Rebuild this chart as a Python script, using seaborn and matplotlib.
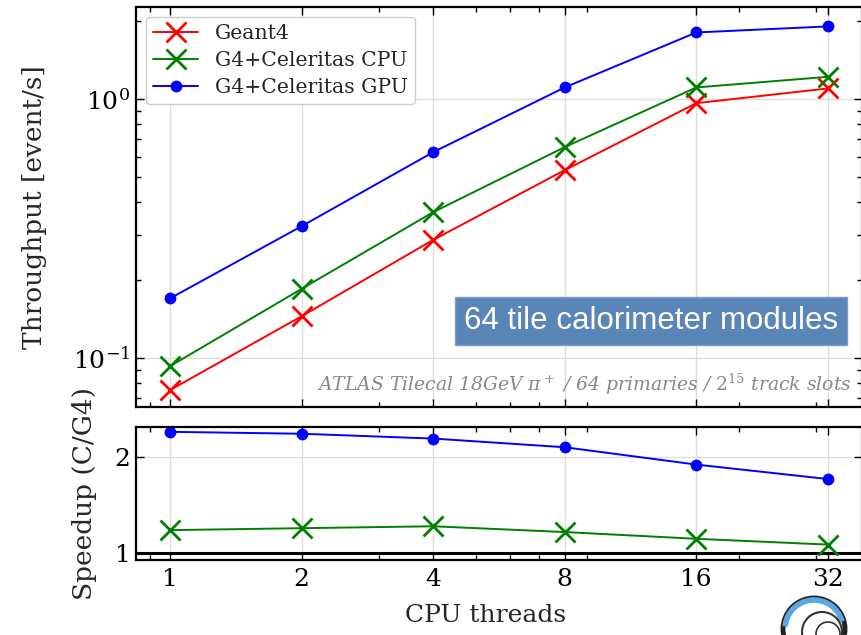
import numpy as np
import pandas as pd
import matplotlib
matplotlib.use("Agg")
import matplotlib.pyplot as plt
import seaborn as sns
from matplotlib.patches import Circle, Arc

# data
threads = [1, 2, 4, 8, 16, 32]
geant4 = [0.0752, 0.145, 0.286, 0.532, 0.965, 1.10]
celer_cpu = [0.093, 0.185, 0.366, 0.653, 1.11, 1.22]
celer_gpu = [0.170, 0.323, 0.624, 1.11, 1.81, 1.91]
speedup_cpu = [1.24, 1.26, 1.28, 1.22, 1.15, 1.09]
speedup_gpu = [2.26, 2.24, 2.19, 2.10, 1.92, 1.77]
xtick_labels = ["1", "2", "4", "8", "16", "32"]

sns.set_theme(style="whitegrid")
plt.rcParams['font.family'] = ['DejaVu Serif']
plt.rcParams['mathtext.fontset'] = 'dejavuserif'
plt.rcParams.update({
    'xtick.direction': 'in', 'ytick.direction': 'in',
    'xtick.top': True, 'ytick.right': True,
    'xtick.bottom': True, 'ytick.left': True,
    'xtick.major.size': 6, 'ytick.major.size': 6,
    'xtick.minor.size': 3.5, 'ytick.minor.size': 3.5,
    'xtick.major.width': 1.0, 'ytick.major.width': 1.0,
    'xtick.minor.visible': True,
    'axes.edgecolor': 'black', 'axes.linewidth': 1.6,
    'grid.color': '#dddddd', 'grid.linewidth': 1.0,
    'xtick.color': 'black', 'ytick.color': 'black',
})

fig = plt.figure(figsize=(8.61, 6.35), dpi=100)
W, H = 861, 635
ax1 = fig.add_axes([136 / W, 1 - 407 / H, 726 / W, 400 / H])
ax2 = fig.add_axes([136 / W, 1 - 560 / H, 726 / W, 133 / H], sharex=ax1)

df = pd.DataFrame({"threads": threads, "g4": geant4, "cpu": celer_cpu, "gpu": celer_gpu,
                   "s_cpu": speedup_cpu, "s_gpu": speedup_gpu})

xkw = dict(marker="x", markersize=14, markeredgewidth=2, lw=1.4)
okw = dict(marker="o", markersize=8.5, markeredgewidth=0, lw=1.4)

sns.lineplot(data=df, x="threads", y="g4", ax=ax1, color="red", mec="red",
             label="Geant4", **xkw)
sns.lineplot(data=df, x="threads", y="cpu", ax=ax1, color="green", mec="green",
             label="G4+Celeritas CPU", **xkw)
sns.lineplot(data=df, x="threads", y="gpu", ax=ax1, color="blue", mfc="blue",
             label="G4+Celeritas GPU", **okw)

sns.lineplot(data=df, x="threads", y="s_cpu", ax=ax2, color="green", mec="green", **xkw)
sns.lineplot(data=df, x="threads", y="s_gpu", ax=ax2, color="blue", mfc="blue", **okw)
ax2.axhline(1.0, color="black", lw=2.2, zorder=1)

ax1.set_xscale("log")
ax1.set_yscale("log")
ax1.set_xlim(0.836, 38.3)
ax1.set_ylim(0.0647, 2.27)
ax2.set_ylim(0.93, 2.31)
ax2.set_xticks(threads)
ax2.set_xticklabels(xtick_labels)
ax2.set_yticks([1, 2])
ax2.set_yticklabels(["1", "2"])
ax2.yaxis.set_minor_locator(matplotlib.ticker.NullLocator())
ax1.tick_params(axis='x', which='both', labelbottom=False)

for ax in (ax1, ax2):
    ax.tick_params(labelsize=18)
    ax.tick_params(axis='y', pad=4)
    ax.tick_params(axis='x', pad=6)
    ax.grid(True, which="major")
    ax.grid(False, which="minor")
    for s in ax.spines.values():
        s.set_color("black")
        s.set_linewidth(1.6)

ax1.set_xlabel("")
ax1.set_ylabel("Throughput [event/s]", fontsize=19)
ax2.set_ylabel("Speedup (C/G4)", fontsize=19)
ax2.set_xlabel("CPU threads", fontsize=18)
ax1.yaxis.set_label_coords(-0.122, 0.5)
ax2.yaxis.set_label_coords(-0.054, 0.5)
ax2.xaxis.set_label_coords(0.482, -0.33)

leg = ax1.legend(loc="upper left", fontsize=14.7, frameon=True, fancybox=True,
                 framealpha=1.0, edgecolor="#cccccc", borderaxespad=0.5,
                 handlelength=2.2, labelspacing=0.38, borderpad=0.35)

ax1.text(0.986, 0.025,
         r"ATLAS Tilecal 18GeV $\pi^+$ / 64 primaries / $2^{15}$ track slots",
         transform=ax1.transAxes, ha="right", va="bottom", fontsize=13.5,
         style="italic", color="#888888")
ax1.text(0.967, 0.215, "64 tile calorimeter modules", transform=ax1.transAxes,
         ha="right", va="center", fontsize=22.5, color="white",
         family=["Liberation Sans", "DejaVu Sans"],
         bbox=dict(boxstyle="square,pad=0.3", fc="#5a85b8", ec="#7f9fc8", lw=1))

# small logo in the lower right corner
tr = fig.dpi_scale_trans
cx, cy = 8.14, 0.06
fig.patches.append(Circle((cx, cy), 0.31, transform=tr, fill=False, ec="#222222", lw=3.5))
fig.patches.append(Arc((cx, cy), 0.58, 0.58, theta1=15, theta2=175, transform=tr,
                       ec="#5ba8e0", lw=4))
fig.patches.append(Circle((cx + 0.08, cy - 0.03), 0.20, transform=tr, fill=False, ec="#333333", lw=1.5))
fig.patches.append(Circle((cx + 0.14, cy - 0.05), 0.12, transform=tr, fill=False, ec="#333333", lw=1.2))

fig.savefig("out.png", dpi=100)
